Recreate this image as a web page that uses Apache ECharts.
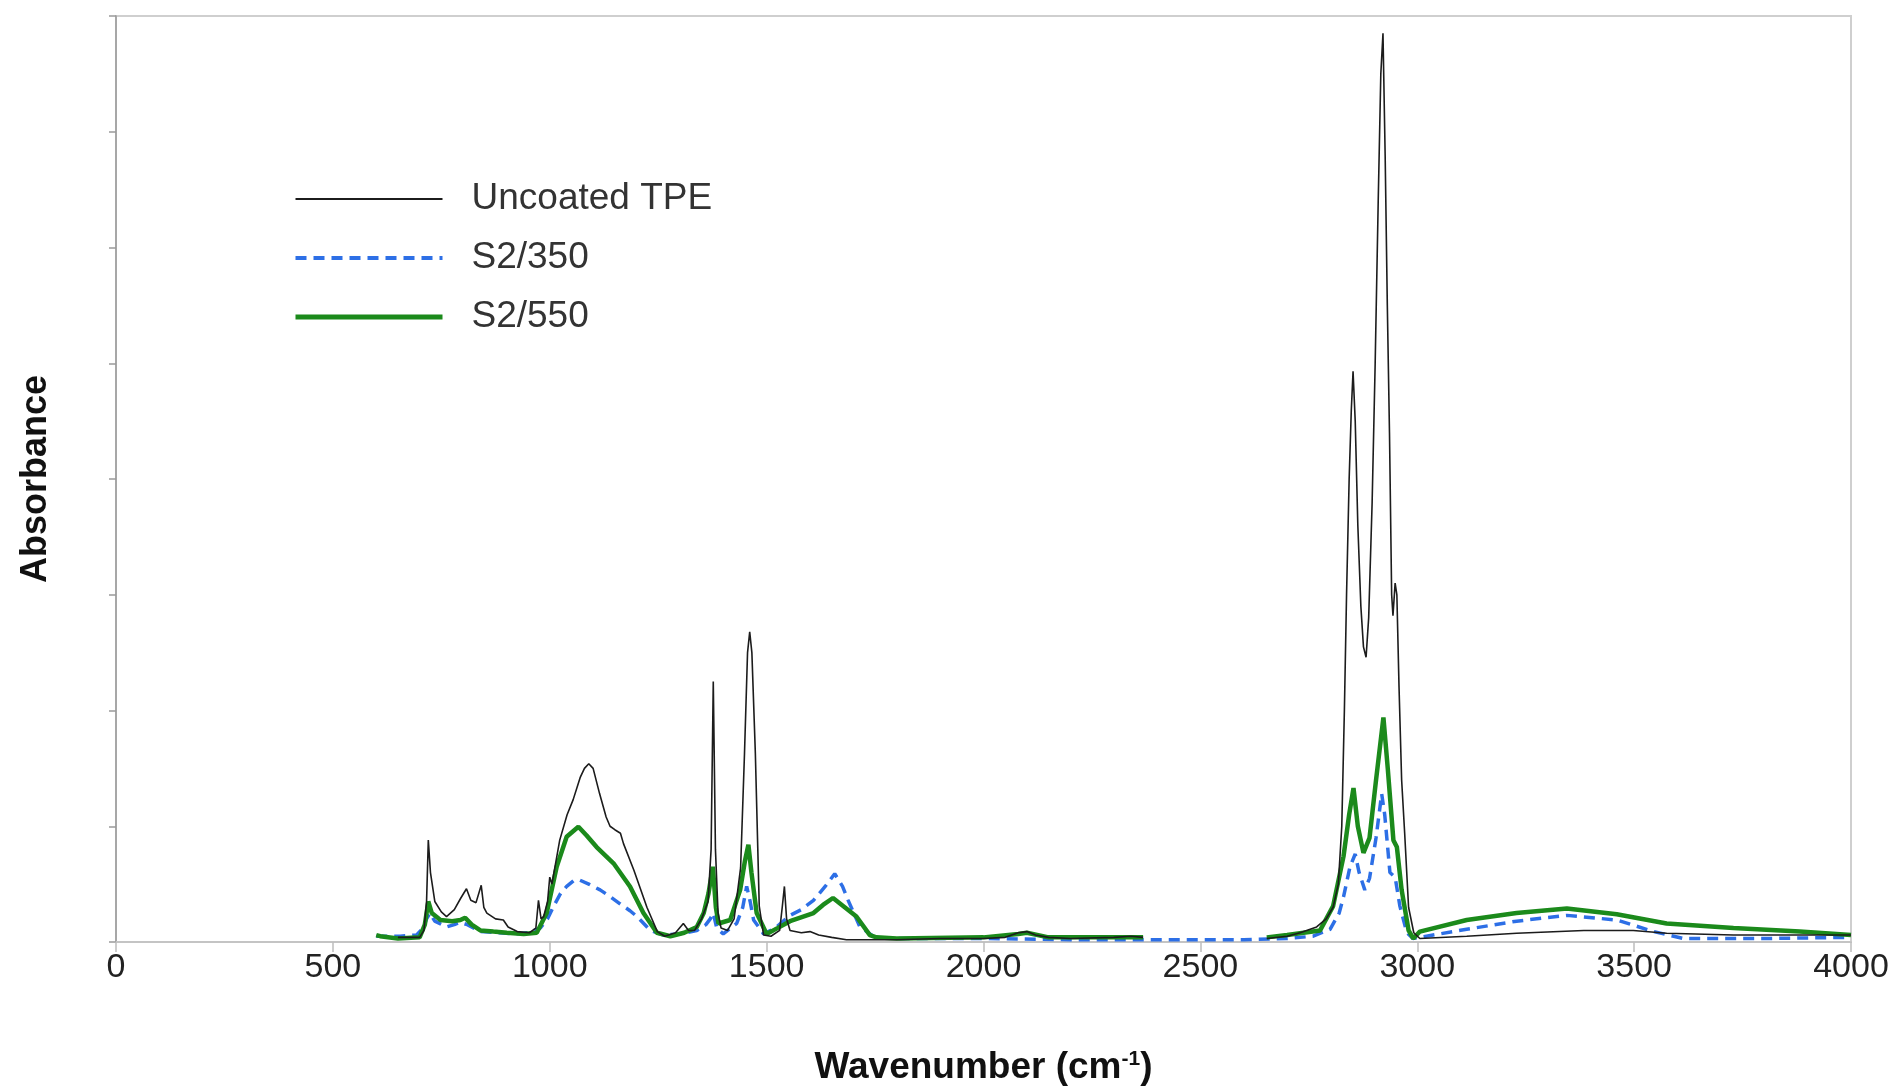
<!DOCTYPE html>
<html>
<head>
<meta charset="utf-8">
<title>FTIR spectra</title>
<script src="https://cdn.jsdelivr.net/npm/echarts@6/dist/echarts.min.js"></script>
<style>
html,body{margin:0;padding:0;background:#fff;}
#chart{width:1896px;height:1089px;}
</style>
</head>
<body>
<div id="chart"></div>
<script>
// axis ticks
var xTicks=[0,500,1000,1500,2000,2500,3000,3500,4000];
var yMax=0.8;

// Uncoated TPE (null = gap in the data)
var tpeX=[650,700,710,716,720,725,735,750,762,780,795,808,818,830,842,848,855,875,893,904,925,953,968,974,980,986,995,1000,1005,1023,1040,1054,1070,1080,1090,1100,1115,1130,1139,1150,1163,1170,1194,1224,1248,1265,1290,1308,1320,1334,1350,1365,1372,1377,1382,1388,1395,1410,1425,1440,1449,1456,1461,1466,1474,1483,1493,1510,1530,1536,1541,1546,1554,1580,1600,1620,1650,1684,1750,1800,1900,2000,2050,2080,2100,2120,2150,2200,2300,2340,2368,2500,2653,2700,2730,2768,2790,2806,2818,2826,2832,2837,2843,2848,2852,2857,2863,2870,2876,2882,2888,2896,2903,2910,2916,2921,2926,2931,2936,2941,2944,2949,2953,2958,2964,2971,2980,2992,3006,3114,3229,3384,3498,3575,3729,4000];
var tpeY=[0.004,0.004,0.01,0.035,0.088,0.06,0.035,0.026,0.022,0.028,0.038,0.046,0.036,0.034,0.049,0.03,0.025,0.02,0.019,0.013,0.009,0.008,0.012,0.036,0.02,0.022,0.035,0.056,0.05,0.088,0.11,0.123,0.142,0.15,0.154,0.15,0.128,0.108,0.1,0.097,0.094,0.085,0.062,0.03,0.009,0.005,0.008,0.016,0.01,0.01,0.02,0.035,0.08,0.225,0.08,0.025,0.012,0.01,0.02,0.064,0.163,0.25,0.268,0.25,0.163,0.031,0.006,0.005,0.01,0.03,0.048,0.02,0.01,0.008,0.009,0.006,0.004,0.002,0.002,0.002,0.003,0.003,0.004,0.008,0.009,0.006,0.004,0.003,0.004,0.005,0.004,null,0.003,0.005,0.008,0.013,0.02,0.03,0.05,0.1,0.2,0.3,0.4,0.46,0.493,0.45,0.36,0.29,0.255,0.246,0.28,0.38,0.5,0.64,0.75,0.785,0.68,0.55,0.44,0.3,0.282,0.31,0.3,0.22,0.14,0.094,0.03,0.008,0.003,0.005,0.0075,0.01,0.01,0.0075,0.006,0.006];

// S2/350
var s350X=[600,655,693,708,716,724,735,762,780,793,810,840,880,916,950,978,995,1009,1025,1039,1055,1066,1090,1116,1140,1162,1185,1201,1232,1262,1300,1339,1360,1370,1377,1385,1400,1431,1445,1454,1462,1470,1493,1520,1554,1580,1608,1635,1657,1675,1688,1715,1750,1800,2000,2200,2400,2600,2700,2760,2799,2820,2830,2845,2857,2866,2879,2890,2905,2918,2925,2937,2949,2960,2976,2990,3021,3114,3229,3345,3460,3545,3614,3800,4000];
var s350Y=[0.005,0.005,0.006,0.012,0.02,0.025,0.018,0.013,0.015,0.017,0.015,0.009,0.008,0.007,0.008,0.012,0.02,0.031,0.042,0.048,0.053,0.054,0.05,0.045,0.039,0.033,0.027,0.022,0.01,0.006,0.007,0.01,0.015,0.02,0.025,0.012,0.007,0.016,0.03,0.048,0.035,0.019,0.007,0.012,0.023,0.028,0.036,0.048,0.059,0.048,0.036,0.013,0.004,0.003,0.003,0.002,0.002,0.002,0.003,0.005,0.011,0.025,0.039,0.065,0.076,0.06,0.045,0.055,0.09,0.128,0.11,0.06,0.056,0.031,0.008,0.003,0.005,0.011,0.018,0.023,0.019,0.009,0.003,0.003,0.004];

// S2/550
var s550X=[600,609,650,700,712,720,728,748,775,794,805,820,840,870,901,940,970,993,1016,1039,1066,1085,1108,1147,1185,1216,1247,1278,1310,1339,1355,1366,1376,1383,1389,1416,1439,1450,1458,1465,1477,1500,1525,1554,1608,1630,1653,1680,1707,1738,1753,1800,2000,2080,2100,2150,2300,2368,2500,2653,2700,2776,2806,2830,2843,2853,2863,2876,2890,2905,2922,2932,2945,2953,2964,2980,2991,3006,3114,3229,3345,3460,3575,3729,3882,4000];
var s550Y=[0.006,0.005,0.003,0.004,0.015,0.035,0.025,0.019,0.018,0.019,0.021,0.015,0.01,0.009,0.008,0.007,0.008,0.025,0.065,0.091,0.0996,0.092,0.082,0.068,0.048,0.025,0.008,0.005,0.008,0.013,0.025,0.042,0.065,0.03,0.016,0.019,0.045,0.07,0.084,0.06,0.025,0.007,0.012,0.018,0.025,0.032,0.038,0.03,0.022,0.006,0.004,0.003,0.004,0.007,0.008,0.004,0.004,0.004,null,0.004,0.006,0.01,0.031,0.074,0.11,0.133,0.1,0.077,0.09,0.14,0.194,0.15,0.088,0.082,0.045,0.01,0.003,0.009,0.019,0.025,0.029,0.024,0.016,0.012,0.009,0.006];

function pairs(xs,ys){
	var out=[];
	for(var i=0;i<xs.length;i++){
		out.push([xs[i],ys[i]===null?'-':ys[i]]);
	}
	return out;
}

var FONT="'Liberation Sans',Arial,sans-serif";
var BLACK='#1c1c1c', BLUE='#2d6fe6', GREEN='#1b8a1b';
var DASH=[11,7];

var myChart=echarts.init(document.getElementById('chart'));
myChart.setOption({
	animation:false,
	backgroundColor:'#fff',
	grid:{
		left:116,right:45,top:16,bottom:147,
		containLabel:false,outerBoundsMode:'none',
		show:true,borderColor:'#cfcfcf',borderWidth:2,backgroundColor:'transparent'
	},
	legend:{
		orient:'vertical',
		left:288,top:175,
		itemWidth:147,itemHeight:14,itemGap:21,
		itemStyle:{opacity:0},
		data:[
			{name:'Uncoated TPE',lineStyle:{color:BLACK,width:2}},
			{name:'S2/350',lineStyle:{color:BLUE,width:4,type:DASH}},
			{name:'S2/550',lineStyle:{color:GREEN,width:5}}
		],
		textStyle:{fontFamily:FONT,fontSize:37,color:'#333',lineHeight:38,padding:[0,0,0,24]}
	},
	xAxis:{
		type:'value',
		min:xTicks[0],max:xTicks[xTicks.length-1],interval:500,
		name:'Wavenumber (cm{sup|-1})',
		nameLocation:'middle',nameGap:107,
		nameTextStyle:{
			fontFamily:FONT,fontSize:37,fontWeight:'bold',color:'#111',
			rich:{sup:{fontFamily:FONT,fontSize:21,fontWeight:'bold',color:'#111',padding:[0,0,16,0]}}
		},
		axisLine:{lineStyle:{color:'#c4c4c4',width:2}},
		axisTick:{show:true,length:10,lineStyle:{color:'#bdbdbd',width:1.5}},
		axisLabel:{fontFamily:FONT,fontSize:34,color:'#222',margin:9,
			formatter:function(v){return String(v);}},
		splitLine:{show:false}
	},
	yAxis:{
		type:'value',
		min:0,max:yMax,interval:0.1,
		name:'Absorbance',
		nameLocation:'middle',nameRotate:90,nameGap:62,
		nameTextStyle:{fontFamily:FONT,fontSize:36,fontWeight:'bold',color:'#111'},
		axisLine:{show:true,lineStyle:{color:'#9a9a9a',width:1.5}},
		axisTick:{show:true,length:7,lineStyle:{color:'#9a9a9a',width:1.5}},
		axisLabel:{show:false},
		splitLine:{show:false}
	},
	series:[
		{name:'Uncoated TPE',type:'line',z:4,symbol:'none',connectNulls:false,
		 lineStyle:{color:BLACK,width:1.6},itemStyle:{color:BLACK},
		 data:pairs(tpeX,tpeY)},
		{name:'S2/350',type:'line',z:2,symbol:'none',
		 lineStyle:{color:BLUE,width:3.5,type:DASH},itemStyle:{color:BLUE},
		 data:pairs(s350X,s350Y)},
		{name:'S2/550',type:'line',z:3,symbol:'none',connectNulls:false,
		 lineStyle:{color:GREEN,width:4.5},itemStyle:{color:GREEN},
		 data:pairs(s550X,s550Y)}
	]
});
</script>
</body>
</html>
